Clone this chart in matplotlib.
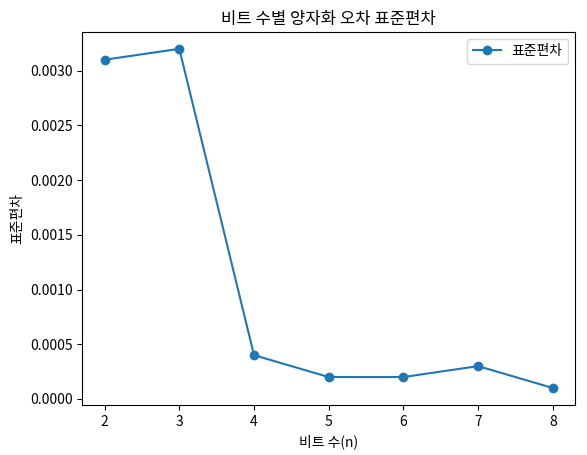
import matplotlib
matplotlib.use("Agg")
import matplotlib.pyplot as plt

plt.rcParams['font.family'] = ['Noto Sans CJK KR', 'DejaVu Sans']
plt.rcParams['axes.unicode_minus'] = False

bits = [2, 3, 4, 5, 6, 7, 8]
std_values = [0.0031, 0.0032, 0.0004, 0.0002, 0.0002, 0.0003, 0.0001]

fig, ax = plt.subplots(figsize=(5.87, 4.55), dpi=100)
ax.plot(bits, std_values, marker='o', label='표준편차')
ax.set_title('비트 수별 양자화 오차 표준편차')
ax.set_xlabel('비트 수(n)')
ax.set_ylabel('표준편차')
ax.legend()
fig.subplots_adjust(left=0.14, right=0.98, top=0.93, bottom=0.11)
fig.savefig('out.png')
